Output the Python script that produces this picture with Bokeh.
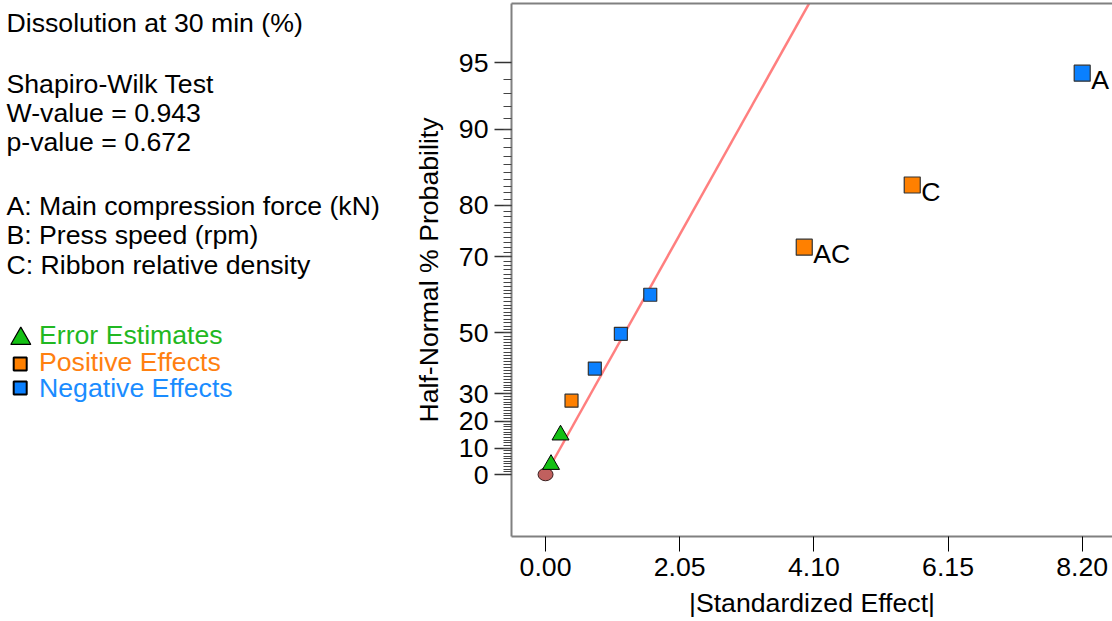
from statistics import NormalDist

from bokeh.plotting import figure
from bokeh.layouts import row
from bokeh.models import (Range1d, FixedTicker, PrintfTickFormatter, CustomJSTickFormatter,
                          LinearAxis, ColumnDataSource)
from bokeh.core.properties import value
from bokeh.embed import file_html
from bokeh.resources import INLINE

# ---------------- data ----------------
title_lines = ["Dissolution at 30 min (%)", "Shapiro-Wilk Test", "W-value = 0.943", "p-value = 0.672"]
factor_lines = ["A: Main compression force (kN)", "B: Press speed (rpm)", "C: Ribbon relative density"]
legend_labels = ["Error Estimates", "Positive Effects", "Negative Effects"]

x_ticks = [0.00, 2.05, 4.10, 6.15, 8.20]
y_tick_probs = [0, 10, 20, 30, 50, 70, 80, 90, 95]

origin_effect = [0.0]
origin_prob = [0.0]

err_effect = [0.084, 0.229]
err_prob = [3.8, 14.9]

pos_effect = [0.397, 3.953, 5.603]
pos_prob = [27.5, 72.1, 83.2]
pos_label = ["", "AC", "C"]

neg_effect = [0.753, 1.151, 1.600, 8.20]
neg_prob = [38.6, 49.7, 60.8, 94.4]
neg_label = ["", "", "", "A"]

fit_slope = 0.557          # half-normal quantile per unit of |effect|
fit_effect = [0.0, 4.3]

# ---------------- helpers ----------------
ND = NormalDist()


def hn(pct):
    """half-normal quantile of a cumulative percentage"""
    return ND.inv_cdf(0.5 + pct / 200.0)


FONT = value("Liberation Sans")
FS = "20pt"
GREEN, ORANGE, BLUE = "#14C014", "#FF8000", "#0A80FF"
GREEN_T, ORANGE_T, BLUE_T = "#22B822", "#FF8010", "#1A8CFF"

H = 621
FRAME_TOP, FRAME_BOTTOM = 3, 536   # page pixels of the plot frame
BL = 10                            # svg baseline correction (px)

# ---------------- left text panel (frame aligned with the main plot) ----------------
left = figure(width=400, height=H, x_range=Range1d(0, 400),
              y_range=Range1d(FRAME_BOTTOM, FRAME_TOP),
              output_backend="svg", toolbar_location=None, min_border=0,
              min_border_top=FRAME_TOP, min_border_bottom=H - FRAME_BOTTOM)
left.axis.visible = False
left.grid.visible = False
left.outline_line_color = None

left.text(x=[6] * len(title_lines), y=[32 - BL, 93 - BL, 122.7 - BL, 151.7 - BL], text=title_lines,
          text_font=FONT, text_font_size=FS, text_baseline="alphabetic", text_color="black")
left.text(x=[6] * len(factor_lines), y=[215 - BL, 244 - BL, 274 - BL], text=factor_lines,
          text_font=FONT, text_font_size=FS, text_baseline="alphabetic", text_color="black")
left.text(x=[38.5] * 3, y=[344 - BL, 371.7 - BL, 397.3 - BL], text=legend_labels, text_font=FONT,
          text_font_size=FS, text_baseline="alphabetic", text_color=[GREEN_T, ORANGE_T, BLUE_T])
left.scatter(x=[20.3], y=[338.2], marker="triangle", size=20, fill_color=GREEN,
             line_color="black", line_width=1.2)
left.scatter(x=[19.7, 19.7], y=[363.5, 387.5], marker="square", size=13,
             fill_color=[ORANGE, BLUE], line_color="black", line_width=2)

# ---------------- main plot ----------------
Z_TOP = (474 - FRAME_TOP) / 210.0
Z_BOT = (474 - FRAME_BOTTOM) / 210.0
p = figure(width=712, height=H, x_range=Range1d(-0.52, 8.663), y_range=Range1d(Z_BOT, Z_TOP),
           output_backend="svg", toolbar_location=None,
           min_border_left=111, min_border_right=0, min_border_top=FRAME_TOP,
           min_border_bottom=H - FRAME_BOTTOM)
p.grid.visible = False
p.outline_line_color = None
p.background_fill_color = "white"
p.border_fill_color = "white"

xa = p.below[0]
ya = p.left[0]

# top border
top_axis = LinearAxis(ticker=FixedTicker(ticks=[]), axis_line_color="#808080", axis_line_width=2,
                      major_tick_out=0, major_tick_in=0, minor_tick_out=0, minor_tick_in=0,
                      major_label_text_font_size="0px", major_label_standoff=0)
p.add_layout(top_axis, "above")

xa.ticker = FixedTicker(ticks=x_ticks)
xa.formatter = PrintfTickFormatter(format="%.2f")
xa.axis_label = "|Standardized Effect|"
xa.axis_label_text_font = "Liberation Sans"
xa.axis_label_text_font_size = FS
xa.axis_label_text_font_style = "normal"
xa.axis_label_text_color = "black"
xa.axis_label_standoff = 9
xa.major_label_text_font = "Liberation Sans"
xa.major_label_text_font_size = FS
xa.major_label_text_color = "black"
xa.major_label_standoff = 6
xa.major_tick_out = 15
xa.major_tick_in = 0
xa.major_tick_line_color = "black"
xa.major_tick_line_width = 1
xa.minor_tick_line_color = None
xa.axis_line_color = "#808080"
xa.axis_line_width = 2

z_major = [hn(v) for v in y_tick_probs]
z_minor = [hn(v) for v in range(1, 95)]
ya.ticker = FixedTicker(ticks=z_major, minor_ticks=z_minor)
ya.formatter = CustomJSTickFormatter(
    args=dict(zs=z_major, labs=[str(v) for v in y_tick_probs]),
    code="""
    let best = 0, bd = 1e9;
    for (let i = 0; i < zs.length; i++) {
        const d = Math.abs(zs[i] - tick);
        if (d < bd) { bd = d; best = i; }
    }
    return labs[best];
    """)
ya.axis_label = "Half-Normal % Probability"
ya.axis_label_text_font = "Liberation Sans"
ya.axis_label_text_font_size = FS
ya.axis_label_text_font_style = "normal"
ya.axis_label_text_color = "black"
ya.axis_label_standoff = 12
ya.major_label_text_font = "Liberation Sans"
ya.major_label_text_font_size = FS
ya.major_label_text_color = "black"
ya.major_label_standoff = 6
ya.major_tick_out = 17
ya.major_tick_in = 0
ya.minor_tick_out = 8
ya.minor_tick_in = 0
ya.major_tick_line_color = "#333333"
ya.major_tick_line_width = 1.5
ya.minor_tick_line_color = "#444444"
ya.minor_tick_line_width = 1.2
ya.axis_line_color = "#808080"
ya.axis_line_width = 2

# fit line
p.line(x=fit_effect, y=[fit_slope * e for e in fit_effect], line_color="#FF7F7F", line_width=2.5)

# origin
p.ellipse(x=origin_effect, y=[hn(v) for v in origin_prob], width=15, height=12.5,
          width_units="screen", height_units="screen", fill_color="#C0605E",
          line_color="#3a2020", line_width=1)

# error estimates
p.scatter(x=err_effect, y=[hn(v) for v in err_prob], marker="triangle", size=17,
          fill_color=GREEN, line_color="black", line_width=1)

# positive / negative effects
for eff, prob, lab, col in [(pos_effect, pos_prob, pos_label, ORANGE),
                            (neg_effect, neg_prob, neg_label, BLUE)]:
    src = ColumnDataSource(dict(x=eff, y=[hn(v) for v in prob], lab=lab,
                                size=[16 if l else 13 for l in lab]))
    p.scatter(x="x", y="y", size="size", marker="square", source=src,
              fill_color=col, line_color="#333333", line_width=1.2)
    p.text(x="x", y="y", text="lab", source=src, x_offset=9, y_offset=17 - BL,
           text_font=FONT, text_font_size=FS, text_baseline="alphabetic", text_color="black")

layout = row(left, p)
open("out.html", "w").write(file_html(layout, INLINE))
